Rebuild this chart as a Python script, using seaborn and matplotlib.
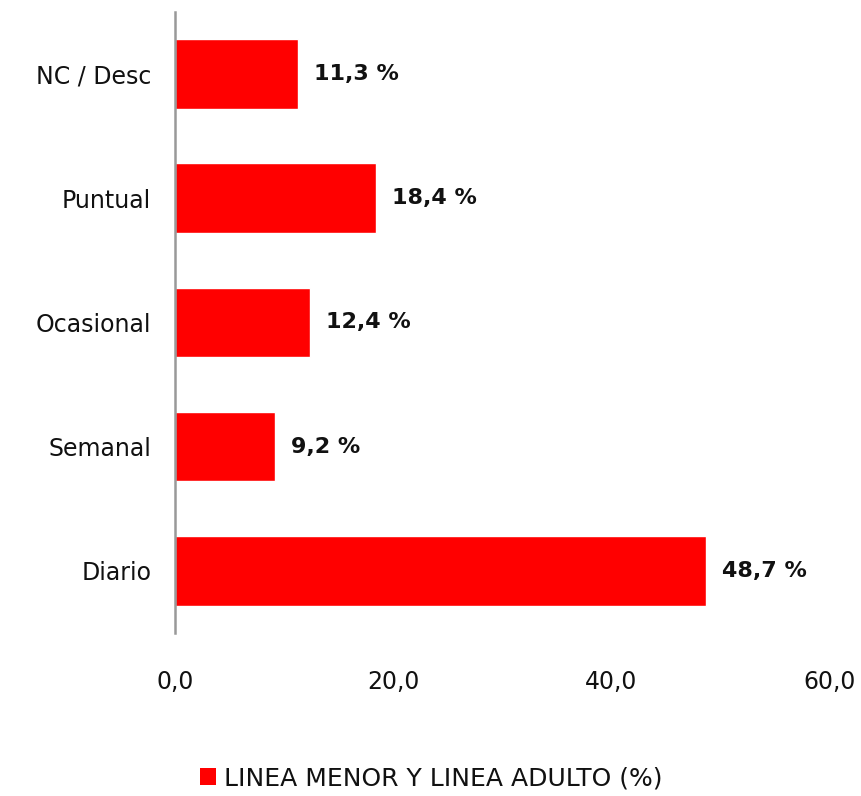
import matplotlib
matplotlib.use("Agg")
import matplotlib.pyplot as plt
import seaborn as sns
import pandas as pd
from matplotlib.patches import Patch

categories = ["NC / Desc", "Puntual", "Ocasional", "Semanal", "Diario"]
values = [11.3, 18.4, 12.4, 9.2, 48.7]
x_ticks = [0, 20, 40, 60]
series_name = "LINEA MENOR Y LINEA ADULTO (%)"

sns.set_theme(style="white")
plt.rcParams['font.family'] = ['DejaVu Sans']

df = pd.DataFrame({"cat": categories, "val": values})

fig = plt.figure(figsize=(8.62, 7.96), dpi=100)
ax = fig.add_axes([0.203, 0.205, 0.759, 0.780])
sns.barplot(data=df, y="cat", x="val", color="#FF0000", saturation=1,
            width=0.56, ax=ax, orient="h")
ax.set_xlim(0, 60)
ax.set_ylim(4.5, -0.5)
ax.set_xticks(x_ticks)
ax.set_xticklabels([f"{t:.1f}".replace(".", ",") for t in x_ticks], fontsize=17, color="#111111")
ax.tick_params(axis="x", length=0, pad=27)
ax.tick_params(axis="y", length=0, pad=17, labelsize=17, labelcolor="#111111")
ax.set_xlabel("")
ax.set_ylabel("")
for s in ["top", "right", "bottom"]:
    ax.spines[s].set_visible(False)
ax.spines["left"].set_color("#999999")
ax.spines["left"].set_linewidth(1.8)

for i, v in enumerate(values):
    ax.annotate(f"{v:.1f} %".replace(".", ","), xy=(v, i), xytext=(16, 0),
                textcoords="offset pixels",
                va="center", ha="left", fontsize=16, fontweight="bold", color="#111111")

handles = [Patch(facecolor="#FF0000", edgecolor="none")]
fig.legend(handles, [series_name], loc="center", bbox_to_anchor=(0.5, 0.022),
           frameon=False, fontsize=18, handlelength=0.65, handleheight=0.65,
           handletextpad=0.3, labelcolor="#111111")

fig.savefig("out.png", dpi=100)
